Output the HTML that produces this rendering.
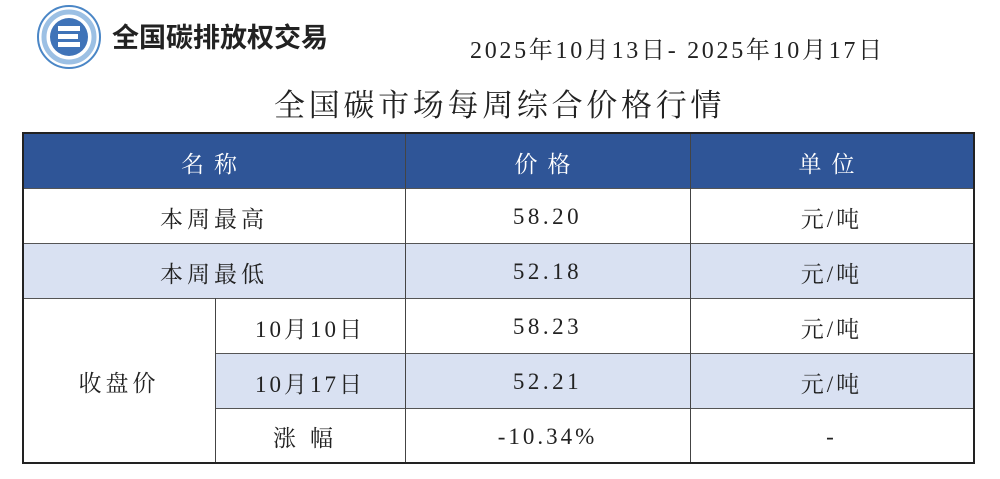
<!DOCTYPE html>
<html><head><meta charset="utf-8"><style>
body{margin:0;width:1000px;height:479px;background:#fff;position:relative;overflow:hidden;font-family:"Liberation Serif","Noto Serif CJK SC",serif;color:#222}
.a{position:absolute}
.c{position:absolute;display:flex;align-items:center;justify-content:center;font-size:23px;letter-spacing:3px;box-sizing:border-box;padding-top:3px}
.h{color:#fff;letter-spacing:10px}
.vl{position:absolute;width:1px;background:#444}
.hl{position:absolute;height:1px;background:#555}
</style></head><body>
<svg class="a" style="left:36px;top:4px" width="66" height="66" viewBox="0 0 66 66">
<circle cx="33" cy="33" r="31" fill="#fff" stroke="#4a86c6" stroke-width="2"/>
<circle cx="33" cy="33" r="25" fill="none" stroke="#9cc0e4" stroke-width="5"/>
<circle cx="33" cy="33" r="19" fill="#3f73b8"/>
<rect x="22" y="22" width="22" height="5" fill="#fff"/><rect x="22" y="30" width="20" height="5" fill="#fff"/><rect x="22" y="38" width="22" height="5" fill="#fff"/>
</svg>
<div class="a" style="left:112px;top:16px;font-family:'Liberation Sans','Noto Sans CJK SC',sans-serif;font-weight:bold;font-size:27px;color:#222">全国碳排放权交易</div>
<div class="a" style="left:470px;top:30px;font-size:24px;letter-spacing:2.7px;white-space:nowrap">2025年10月13日- 2025年10月17日</div>
<div class="a" style="left:274px;top:80px;font-size:31px;letter-spacing:3.7px;white-space:nowrap">全国碳市场每周综合价格行情</div>

<div class="a" style="left:23px;top:133px;width:950px;height:55px;background:#2f5597"></div>
<div class="a" style="left:23px;top:243px;width:950px;height:55px;background:#d9e1f2"></div>
<div class="a" style="left:215px;top:353px;width:758px;height:55px;background:#d9e1f2"></div>

<div class="c h" style="left:23px;top:133px;width:382px;height:55px">名称</div>
<div class="c h" style="left:405px;top:133px;width:285px;height:55px">价格</div>
<div class="c h" style="left:690px;top:133px;width:283px;height:55px">单位</div>

<div class="c" style="left:23px;top:188px;width:382px;height:55px;letter-spacing:4px">本周最高</div>
<div class="c" style="left:405px;top:188px;width:285px;height:55px;letter-spacing:3.5px">58.20</div>
<div class="c" style="left:690px;top:188px;width:283px;height:55px">元/吨</div>
<div class="c" style="left:23px;top:243px;width:382px;height:55px;letter-spacing:4px">本周最低</div>
<div class="c" style="left:405px;top:243px;width:285px;height:55px;letter-spacing:3.5px">52.18</div>
<div class="c" style="left:690px;top:243px;width:283px;height:55px">元/吨</div>
<div class="c" style="left:23px;top:298px;width:192px;height:164px;letter-spacing:4px">收盘价</div>
<div class="c" style="left:215px;top:298px;width:190px;height:55px">10月10日</div>
<div class="c" style="left:405px;top:298px;width:285px;height:55px;letter-spacing:3.5px">58.23</div>
<div class="c" style="left:690px;top:298px;width:283px;height:55px">元/吨</div>
<div class="c" style="left:215px;top:353px;width:190px;height:55px">10月17日</div>
<div class="c" style="left:405px;top:353px;width:285px;height:55px;letter-spacing:3.5px">52.21</div>
<div class="c" style="left:690px;top:353px;width:283px;height:55px">元/吨</div>
<div class="c" style="left:215px;top:408px;width:190px;height:54px;letter-spacing:14px">涨幅</div>
<div class="c" style="left:405px;top:408px;width:285px;height:54px;letter-spacing:3px">-10.34%</div>
<div class="c" style="left:690px;top:408px;width:283px;height:54px">-</div>

<div class="hl" style="left:23px;top:188px;width:950px"></div>
<div class="hl" style="left:23px;top:243px;width:950px"></div>
<div class="hl" style="left:23px;top:298px;width:950px"></div>
<div class="hl" style="left:215px;top:353px;width:758px"></div>
<div class="hl" style="left:215px;top:408px;width:758px"></div>
<div class="vl" style="left:405px;top:133px;height:329px"></div>
<div class="vl" style="left:690px;top:133px;height:329px"></div>
<div class="vl" style="left:215px;top:298px;height:164px"></div>
<div class="a" style="left:22px;top:132px;width:949px;height:328px;border:2px solid #222"></div>
</body></html>
